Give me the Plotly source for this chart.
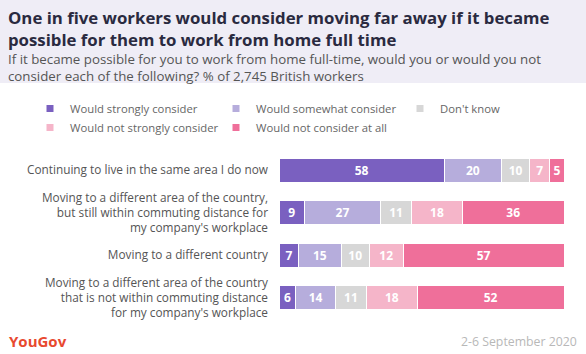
import plotly.graph_objects as go

categories = [
    "Continuing to live in the same area I do now",
    "Moving to a different area of the country,<br>but still within commuting distance for<br>my company's workplace",
    "Moving to a different country",
    "Moving to a different area of the country<br>that is not within commuting distance<br>for my company's workplace",
]
series_names = [
    "Would strongly consider",
    "Would somewhat consider",
    "Don't know",
    "Would not strongly consider",
    "Would not consider at all",
]
strongly = [58, 9, 7, 6]
somewhat = [20, 27, 15, 14]
dont_know = [10, 11, 10, 11]
not_strongly = [7, 18, 12, 18]
not_at_all = [5, 36, 57, 52]
series_values = [strongly, somewhat, dont_know, not_strongly, not_at_all]
colors = ["#7a60c0", "#b6addc", "#d7d7d7", "#f5b5c9", "#ef6f9a"]
legend_ids = ["legend", "legend2", "legend3", "legend", "legend2"]

title_text = "One in five workers would consider moving far away if it became<br>possible for them to work from home full time"
subtitle_text = "If it became possible for you to work from home full-time, would you or would you not<br>consider each of the following? % of 2,745 British workers"
date_text = "2-6 September 2020"
brand_text = "YouGov"

FONT = "Open Sans"
W, H = 586, 354
ML, MR, MT, MB = 279, 22, 149, 35
PW, PH = W - ML - MR, H - MT - MB


def px_x(px):
    return (px - ML) / PW


def px_y(py):
    return (H - MB - py) / PH


fig = go.Figure()
for name, vals, col in zip(series_names, series_values, colors):
    fig.add_trace(go.Bar(
        y=categories, x=vals, name=name, orientation="h",
        marker=dict(color=col, line=dict(color="white", width=1)),
        text=vals, texttemplate="<b>%{text}</b>", textposition="inside",
        insidetextanchor="middle",
        textfont=dict(color="white", size=12, family=FONT),
        showlegend=False, hoverinfo="skip",
    ))
for name, col, lg in zip(series_names, colors, legend_ids):
    fig.add_trace(go.Scatter(
        x=[None], y=[None], mode="markers", name=name, legend=lg,
        marker=dict(symbol="square", size=7, color=col),
        showlegend=True,
    ))

legend_common = dict(orientation="v", xanchor="left", yanchor="top", y=px_y(94),
                     itemwidth=30, traceorder="normal", tracegroupgap=0,
                     bgcolor="rgba(0,0,0,0)",
                     font=dict(size=11.3, color="#666666", family=FONT))

fig.update_layout(
    width=W, height=H,
    margin=dict(l=ML, r=MR, t=MT, b=MB, pad=0),
    barmode="stack", barnorm="percent", bargap=0.44,
    paper_bgcolor="white", plot_bgcolor="white",
    font=dict(family=FONT, color="#555555"),
    xaxis=dict(visible=False, range=[0, 100], fixedrange=True),
    yaxis=dict(autorange="reversed", showgrid=False, zeroline=False, showline=False,
               ticks="", ticklabelstandoff=10,
               tickfont=dict(size=11.8, color="#555555", family=FONT)),
    legend=dict(x=px_x(30), **legend_common),
    legend2=dict(x=px_x(216), **legend_common),
    legend3=dict(x=px_x(400), **legend_common),
    shapes=[dict(type="rect", xref="paper", yref="paper",
                 x0=px_x(0), x1=px_x(W), y0=px_y(83), y1=px_y(0),
                 fillcolor="#efedf6", line=dict(width=0), layer="below")],
    annotations=[
        dict(text="<b>" + title_text + "</b>", xref="paper", yref="paper",
             x=px_x(6), y=px_y(4), xanchor="left", yanchor="top", align="left",
             showarrow=False, font=dict(size=16.8, color="#2a2a40", family=FONT)),
        dict(text=subtitle_text, xref="paper", yref="paper",
             x=px_x(6), y=px_y(48), xanchor="left", yanchor="top", align="left",
             showarrow=False, font=dict(size=13.3, color="#555555", family=FONT)),
        dict(text="<b>" + brand_text + "</b>", xref="paper", yref="paper",
             x=px_x(7), y=px_y(341), xanchor="left", yanchor="middle",
             showarrow=False, font=dict(size=15, color="#e8492f", family=FONT)),
        dict(text=date_text, xref="paper", yref="paper",
             x=px_x(579), y=px_y(341), xanchor="right", yanchor="middle",
             showarrow=False, font=dict(size=12.3, color="#b8b8b8", family=FONT)),
    ],
)

fig.write_html("out.html")
